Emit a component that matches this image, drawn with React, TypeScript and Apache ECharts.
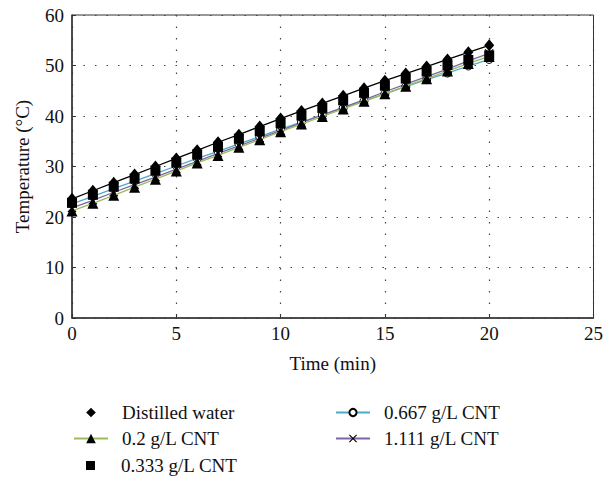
import React, { useEffect, useRef } from "react";
import * as echarts from "echarts";

const times = [0, 1, 2, 3, 4, 5, 6, 7, 8, 9, 10, 11, 12, 13, 14, 15, 16, 17, 18, 19, 20];
const distilledWater = [23.6, 25.2, 26.8, 28.4, 30.0, 31.6, 33.2, 34.8, 36.3, 37.9, 39.5, 41.0, 42.5, 44.0, 45.5, 47.0, 48.4, 49.8, 51.2, 52.6, 54.0];
const cnt0200 = [21.2, 22.7, 24.3, 25.9, 27.5, 29.1, 30.7, 32.2, 33.8, 35.3, 36.9, 38.4, 39.9, 41.4, 42.9, 44.4, 45.9, 47.4, 48.9, 50.4, 51.8];
const cnt0333 = [22.8, 24.4, 26.0, 27.6, 29.2, 30.8, 32.4, 33.9, 35.5, 37.0, 38.6, 40.1, 41.6, 43.1, 44.6, 46.0, 47.4, 48.8, 50.1, 51.1, 52.0];
const cnt0667 = [22.6, 24.1, 25.6, 27.1, 28.6, 30.1, 31.6, 33.0, 34.5, 35.9, 37.4, 38.8, 40.2, 41.6, 43.0, 44.4, 45.8, 47.2, 48.5, 49.9, 51.2];
const cnt1111 = [21.8, 23.3, 24.9, 26.4, 27.9, 29.5, 31.0, 32.6, 34.1, 35.6, 37.1, 38.7, 40.2, 41.7, 43.2, 44.8, 46.3, 47.8, 49.3, 50.9, 52.4];
const xTicks = { min: 0, max: 25, interval: 5 };
const yTicks = { min: 0, max: 60, interval: 10 };

const names = ["Distilled water", "0.2 g/L CNT", "0.333 g/L CNT", "0.667 g/L CNT", "1.111 g/L CNT"];
const xSymbol = "path://M0,1 L1,0 L5,4 L9,0 L10,1 L6,5 L10,9 L9,10 L5,6 L1,10 L0,9 L4,5 Z";
const FONT = "'Liberation Serif', 'DejaVu Serif', serif";
const FS = 19;

const pairs = (ys: number[]) => times.map((t, i) => [t, ys[i]]);

export default function App() {
  const ref = useRef<HTMLDivElement>(null);
  useEffect(() => {
    const chart = echarts.init(ref.current!, undefined, { renderer: "svg" });
    const legendPos = [
      { left: 73, top: 403, itemWidth: 34, itemHeight: 12, pad: 9 },
      { left: 73, top: 429, itemWidth: 34, itemHeight: 12, pad: 9 },
      { left: 86, top: 456, itemWidth: 9, itemHeight: 9, pad: 21 },
      { left: 335, top: 403, itemWidth: 34, itemHeight: 9, pad: 9 },
      { left: 335, top: 429, itemWidth: 34, itemHeight: 10, pad: 9 },
    ];
    const legends = names.map((n, i) => ({
      orient: "horizontal",
      padding: 0,
      selectedMode: false,
      left: legendPos[i].left,
      top: legendPos[i].top,
      itemWidth: legendPos[i].itemWidth,
      itemHeight: legendPos[i].itemHeight,
      textStyle: { fontFamily: FONT, fontSize: FS, color: "#111", padding: [0, 0, 0, legendPos[i].pad] },
      data: i === 0 ? [{ name: n, lineStyle: { opacity: 0 } }] : i === 2 ? [{ name: n, icon: "rect" }] : [n],
    }));
    chart.setOption({
      animation: false,
      textStyle: { fontFamily: FONT },
      grid: { left: 72, right: 9, top: 15, bottom: 161, show: true, borderColor: "#333", borderWidth: 1 },
      legend: legends,
      xAxis: {
        type: "value",
        ...xTicks,
        name: "Time (min)",
        nameLocation: "middle",
        nameGap: 36,
        nameTextStyle: { fontFamily: FONT, fontSize: FS, color: "#111" },
        axisLine: { show: true, onZero: false, lineStyle: { color: "#333", width: 1.5 } },
        axisTick: { show: true, inside: true, length: 4, lineStyle: { color: "#333" } },
        axisLabel: { fontFamily: FONT, fontSize: FS, color: "#111", margin: 6 },
        splitLine: { show: true, lineStyle: { color: "#444", width: 1.2, type: [1.5, 10] } },
      },
      yAxis: {
        type: "value",
        ...yTicks,
        name: "Temperature (°C)",
        nameLocation: "middle",
        nameGap: 40,
        nameTextStyle: { fontFamily: FONT, fontSize: FS, color: "#111" },
        axisLine: { show: true, onZero: false, lineStyle: { color: "#333", width: 1.5 } },
        axisTick: { show: true, inside: true, length: 4, lineStyle: { color: "#333" } },
        axisLabel: { fontFamily: FONT, fontSize: FS, color: "#111", margin: 8 },
        splitLine: { show: true, lineStyle: { color: "#444", width: 1.2, type: [1.5, 10] } },
      },
      series: [
        {
          name: names[3],
          type: "line",
          data: pairs(cnt0667),
          symbol: "circle",
          symbolSize: 8,
          itemStyle: { color: "#fff", borderColor: "#000", borderWidth: 1 },
          lineStyle: { color: "#4bacc6", width: 1.3 },
          z: 2,
        },
        {
          name: names[4],
          type: "line",
          data: pairs(cnt1111),
          symbol: xSymbol,
          symbolSize: 9,
          itemStyle: { color: "#000" },
          lineStyle: { color: "#8064a2", width: 1.3 },
          z: 2,
        },
        {
          name: names[1],
          type: "line",
          data: pairs(cnt0200),
          symbol: "triangle",
          symbolSize: 11,
          itemStyle: { color: "#000" },
          lineStyle: { color: "#9bbb59", width: 1.3 },
          z: 3,
        },
        {
          name: names[2],
          type: "scatter",
          data: pairs(cnt0333),
          symbol: "rect",
          symbolSize: 10,
          itemStyle: { color: "#000", opacity: 1 },
          z: 4,
        },
        {
          name: names[0],
          type: "line",
          data: pairs(distilledWater),
          symbol: "diamond",
          symbolSize: [10, 12],
          itemStyle: { color: "#000" },
          lineStyle: { color: "#000", width: 1.3 },
          z: 5,
        },
      ],
    });
    return () => chart.dispose();
  }, []);
  return <div ref={ref} style={{ width: 606, height: 479, position: "absolute", left: 0, top: 0 }} />;
}
